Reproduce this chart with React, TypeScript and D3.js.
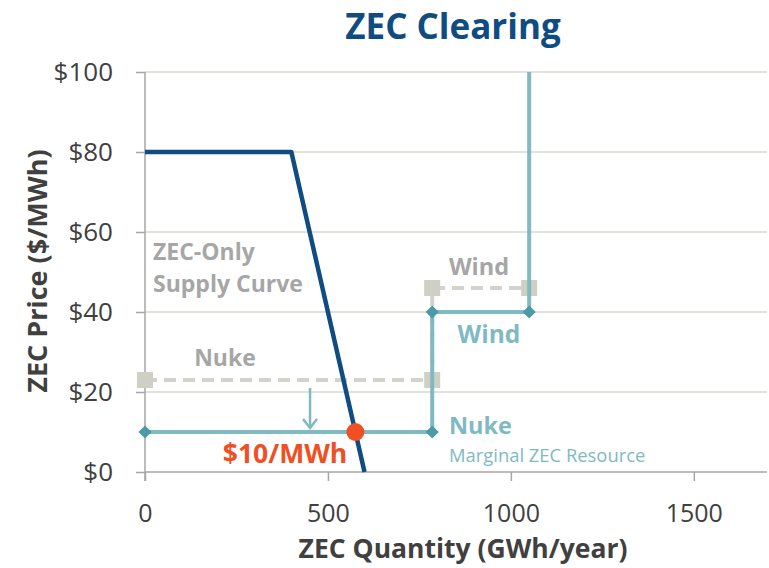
import React, { useRef, useEffect } from 'react';
import * as d3 from 'd3';

// values
const supplyCurve: [number, number][] = [[0, 80], [400, 80], [600, 0]];
const resourceSteps: [number, number][] = [[0, 10], [785, 10], [785, 40], [1050, 40], [1050, 100]];
const resourceMarkers: [number, number][] = [[0, 10], [785, 10], [785, 40], [1050, 40]];
const oldSteps: [number, number][] = [[0, 23], [785, 23], [785, 46], [1050, 46]];
const oldMarkers: [number, number][] = [[0, 23], [785, 23], [785, 46], [1050, 46]];
const clearing: [number, number] = [575, 10];
const arrowFrom: [number, number] = [451, 21];
const arrowTo: [number, number] = [451, 10.5];
const xTicks = [0, 500, 1000, 1500];
const yTicks = [0, 20, 40, 60, 80, 100];

const FONT = '"Open Sans", sans-serif';

export default function App() {
    const ref = useRef<SVGSVGElement>(null);

    useEffect(() => {
        const width = 769;
        const height = 568;
        const left = 145, right = 2, top = 72, bottom = 96;

        const svg = d3.select(ref.current);
        svg.selectAll('*').remove();

        const x = d3.scaleLinear().domain([0, 1700]).range([left, width - right]);
        const y = d3.scaleLinear().domain([0, 100]).range([height - bottom, top]);

        // title
        svg.append('text')
            .attr('x', 453).attr('y', 39)
            .attr('text-anchor', 'middle')
            .style('font-family', FONT).style('font-weight', 'bold')
            .style('font-size', '35px').style('fill', '#0F4C81')
            .text('ZEC Clearing');

        // gridlines
        svg.append('g').selectAll('line')
            .data(yTicks.filter(d => d > 0))
            .enter().append('line')
            .attr('x1', left).attr('x2', width - right)
            .attr('y1', d => y(d)).attr('y2', d => y(d))
            .style('stroke', '#D9D9D2').style('stroke-width', 1.5);

        // y axis
        const yAxis = svg.append('g')
            .attr('transform', `translate(${left},0)`)
            .call(d3.axisLeft(y).tickValues(yTicks).tickSize(9).tickPadding(23).tickFormat(d => `$${d}`));
        yAxis.select('.domain').remove();
        yAxis.selectAll('.tick line').style('stroke', '#A6A6A6').style('stroke-width', 1.5);
        yAxis.selectAll('.tick text')
            .style('font-family', FONT).style('font-size', '26px').style('fill', '#404040');

        // x axis
        const xAxis = svg.append('g')
            .attr('transform', `translate(0,${y(0)})`)
            .call(d3.axisBottom(x).tickValues(xTicks).tickSize(9).tickPadding(23).tickFormat(d3.format('d')));
        xAxis.select('.domain').remove();
        xAxis.selectAll('.tick line').style('stroke', '#A6A6A6').style('stroke-width', 1.5);
        xAxis.selectAll('.tick text')
            .style('font-family', FONT).style('font-size', '25px').style('fill', '#404040');

        // axis lines
        svg.append('line')
            .attr('x1', left).attr('x2', width - right)
            .attr('y1', y(0)).attr('y2', y(0))
            .style('stroke', '#A6A6A6').style('stroke-width', 1.5);
        svg.append('line')
            .attr('x1', x(0)).attr('x2', x(0))
            .attr('y1', y(100)).attr('y2', y(0) + 9)
            .style('stroke', '#A6A6A6').style('stroke-width', 1.5);

        // axis titles
        svg.append('text')
            .attr('x', 463).attr('y', 558)
            .attr('text-anchor', 'middle')
            .style('font-family', FONT).style('font-weight', 'bold')
            .style('font-size', '26.5px').style('fill', '#404040')
            .text('ZEC Quantity (GWh/year)');
        svg.append('text')
            .attr('transform', 'translate(47,271) rotate(-90)')
            .attr('text-anchor', 'middle')
            .style('font-family', FONT).style('font-weight', 'bold')
            .style('font-size', '27px').style('fill', '#404040')
            .text('ZEC Price ($/MWh)');

        const line = d3.line<[number, number]>().x(d => x(d[0])).y(d => y(d[1]));

        // old (pre-ZEC) offers, grey dashed
        svg.append('path')
            .attr('d', line(oldSteps))
            .style('fill', 'none').style('stroke', '#D3D3CB')
            .style('stroke-width', 4).style('stroke-dasharray', '12,7');
        svg.selectAll('rect.old')
            .data(oldMarkers)
            .enter().append('rect')
            .attr('class', 'old')
            .attr('x', d => x(d[0]) - 8).attr('y', d => y(d[1]) - 8)
            .attr('width', 16).attr('height', 16)
            .style('fill', '#CFCFC6');

        // resource steps, teal
        svg.append('path')
            .attr('d', line(resourceSteps))
            .style('fill', 'none').style('stroke', '#7FBAC3').style('stroke-width', 4);
        svg.selectAll('path.diamond')
            .data(resourceMarkers)
            .enter().append('path')
            .attr('class', 'diamond')
            .attr('d', d3.symbol().type(d3.symbolDiamond2).size(110))
            .attr('transform', d => `translate(${x(d[0])},${y(d[1])})`)
            .style('fill', '#4C9AA5');

        // arrow
        svg.append('line')
            .attr('x1', x(arrowFrom[0])).attr('x2', x(arrowTo[0]))
            .attr('y1', y(arrowFrom[1])).attr('y2', y(arrowTo[1]) - 2)
            .style('stroke', '#7FBAC3').style('stroke-width', 2.5);
        const ax = x(arrowTo[0]), ay = y(arrowTo[1]) - 2;
        svg.append('path')
            .attr('d', `M${ax - 7},${ay - 9} L${ax},${ay} L${ax + 7},${ay - 9}`)
            .style('fill', 'none').style('stroke', '#7FBAC3').style('stroke-width', 2.5);

        // ZEC-only supply curve
        svg.append('path')
            .attr('d', line(supplyCurve))
            .style('fill', 'none').style('stroke', '#0F4C81')
            .style('stroke-width', 4.5).style('stroke-linejoin', 'round');

        // clearing point
        svg.append('circle')
            .attr('cx', x(clearing[0])).attr('cy', y(clearing[1]))
            .attr('r', 9).style('fill', '#F04E23');

        const label = (tx: number, ty: number, txt: string, color: string, size: number, bold: boolean, anchor = 'start') =>
            svg.append('text')
                .attr('x', tx).attr('y', ty).attr('text-anchor', anchor)
                .style('font-family', FONT).style('font-weight', bold ? 'bold' : 'normal')
                .style('font-size', `${size}px`).style('fill', color)
                .text(txt);

        label(153, 260, 'ZEC-Only', '#A6A6A6', 23, true);
        label(153, 292, 'Supply Curve', '#A6A6A6', 23, true);
        label(479, 275, 'Wind', '#A6A6A6', 23.5, true, 'middle');
        label(225, 366, 'Nuke', '#A6A6A6', 23, true, 'middle');
        label(489, 343, 'Wind', '#7FBAC3', 24.5, true, 'middle');
        label(449, 434, 'Nuke', '#7FBAC3', 23.5, true);
        label(449, 462, 'Marginal ZEC Resource', '#7FBAC3', 18.4, false);
        label(285, 463, '$10/MWh', '#F04E23', 26.5, true, 'middle');
    }, []);

    return (
        <svg ref={ref} width={769} height={568}
            style={{ position: 'absolute', left: 0, top: 0, background: '#fff' }} />
    );
}
